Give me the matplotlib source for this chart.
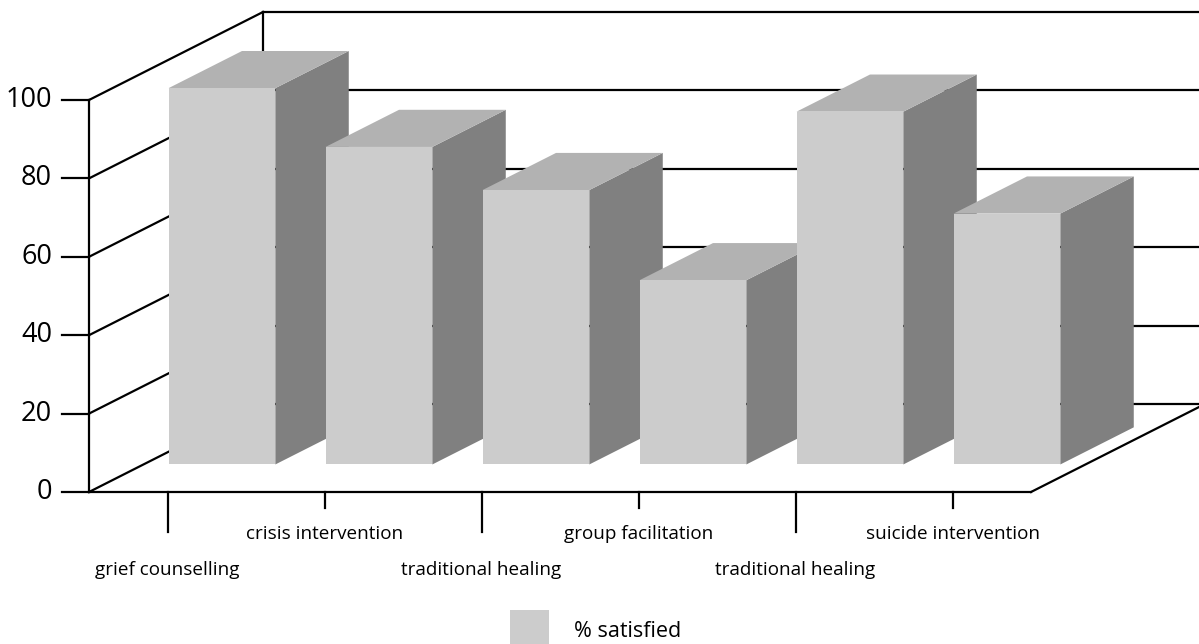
import matplotlib.pyplot as plt
from matplotlib.patches import Polygon, Patch

# DATA ------------------------------------------------
categories = ["grief counselling", "crisis intervention", "traditional healing",
              "group facilitation", "traditional healing", "suicide intervention"]
satisfied = [96, 81, 70, 47, 90, 64]
y_ticks = [0, 20, 40, 60, 80, 100]
series_name = "% satisfied"

# LAYOUT ----------------------------------------------
W, H = 1199, 644
X0, Y0 = 89, 492          # pixel position of the front-left floor corner
PX_CAT = 157              # pixels per category slot
PX_VAL = 3.92             # pixels per value unit
DX = 174 / PX_CAT         # full depth offset, in data units
DY = 88 / PX_VAL
BAR_W = 0.68              # bar width as a fraction of a slot
D_FRONT, D_BACK = 0.313, 0.735   # bar depth range (0 = front, 1 = back wall)

FRONT = "#cccccc"
SIDE = "#808080"
TOP = "#b2b2b2"
FONT = "Open Sans"
LW = 1.6

n = len(categories)


def proj(x, v, d):
    # oblique projection: depth moves points up and to the right
    return x + d * DX, v + d * DY


fig = plt.figure(figsize=(W / 100, H / 100), dpi=100)
ax = fig.add_axes([0, 0, 1, 1])
ax.set_xlim(-X0 / PX_CAT, (W - X0) / PX_CAT)
ax.set_ylim((Y0 - H) / PX_VAL, Y0 / PX_VAL)
ax.axis("off")

top = y_ticks[-1]


def line(p, q, **kw):
    ax.plot([p[0], q[0]], [p[1], q[1]], color="black", lw=LW,
            solid_capstyle="projecting", **kw)


# walls and gridlines
for v in y_ticks:
    line(proj(0, v, 0), proj(0, v, 1))
    line(proj(0, v, 1), proj(n, v, 1))
line(proj(0, 0, 1), proj(0, top, 1))
line(proj(n, 0, 1), proj(n, top, 1))
line(proj(0, 0, 0), proj(0, top, 0))
line(proj(0, 0, 0), proj(n, 0, 0))
line(proj(n, 0, 0), proj(n, 0, 1))

# value axis ticks and labels
tick_len = 27 / PX_CAT
for v in y_ticks:
    line((-tick_len, v), (0, v))
    ax.text(-37 / PX_CAT, v, str(v), ha="right", va="center",
            fontsize=19.5, family=FONT)

# category ticks, staggered labels
for i, name in enumerate(categories):
    xc = i + 0.5
    long_tick = i % 2 == 0
    t = (40 if long_tick else 16) / PX_VAL
    line((xc, 0), (xc, -t))
    ly = -(83 if long_tick else 47) / PX_VAL
    ax.text(xc, ly, name, ha="center", va="baseline", fontsize=13.6, family=FONT)

# 3D bars, left to right so each front face covers the previous side face
for i, v in enumerate(satisfied):
    xl = i + 0.5 - BAR_W / 2
    xr = i + 0.5 + BAR_W / 2
    side = [proj(xr, 0, D_FRONT), proj(xr, 0, D_BACK),
            proj(xr, v, D_BACK), proj(xr, v, D_FRONT)]
    lid = [proj(xl, v, D_FRONT), proj(xr, v, D_FRONT),
           proj(xr, v, D_BACK), proj(xl, v, D_BACK)]
    front = [proj(xl, 0, D_FRONT), proj(xr, 0, D_FRONT),
             proj(xr, v, D_FRONT), proj(xl, v, D_FRONT)]
    ax.add_patch(Polygon(side, closed=True, fc=SIDE, ec="none", zorder=3))
    ax.add_patch(Polygon(lid, closed=True, fc=TOP, ec="none", zorder=3))
    ax.add_patch(Polygon(front, closed=True, fc=FRONT, ec="none", zorder=3))

# legend
ax.legend(handles=[Patch(fc=FRONT, ec="none", label=series_name)],
          loc="upper left", bbox_to_anchor=(510 / W, 1 - 610 / H),
          frameon=False, borderpad=0, borderaxespad=0,
          handlelength=1.81, handleheight=2.5, handletextpad=1.16,
          prop={"family": FONT, "size": 15.5})

plt.savefig("out.png", dpi=100)
